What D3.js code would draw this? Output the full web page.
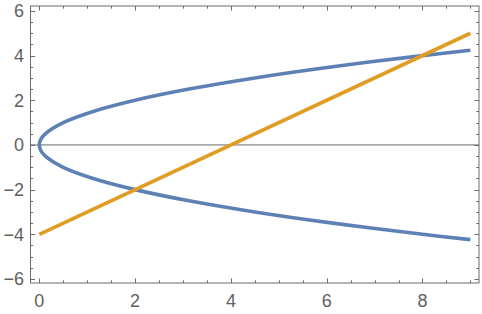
<!DOCTYPE html>
<html>
<head>
<meta charset="utf-8">
<script src="https://cdn.jsdelivr.net/npm/d3@7"></script>
<style>
  body { margin: 0; background: #fff; }
  svg { display: block; }
  .lbl { font-family: "Liberation Sans", Arial, sans-serif; font-size: 18px; fill: #606060; }
</style>
</head>
<body>
<svg id="chart" width="482" height="314"></svg>
<script>
// parabola points (lower branch -> vertex -> upper branch)
var parabolaX = [9, 8, 6.125, 4.5, 3.125, 2, 1.125, 0.5, 0.125, 0.03, 0, 0.03, 0.125, 0.5, 1.125, 2, 3.125, 4.5, 6.125, 8, 9];
var parabolaY = [-4.24, -4, -3.5, -3, -2.5, -2, -1.5, -1, -0.5, -0.25, 0, 0.25, 0.5, 1, 1.5, 2, 2.5, 3, 3.5, 4, 4.24];
// straight line
var lineX = [0, 9];
var lineY = [-4, 5];
var xTicks = [0, 2, 4, 6, 8];
var yTicks = [-6, -4, -2, 0, 2, 4, 6];

var fLeft = 30.5, fRight = 479, fTop = 6, fBottom = 283;

var x = d3.scaleLinear().domain([-0.184, 9.18]).range([fLeft, fRight]);
var y = d3.scaleLinear().domain([-6.18, 6.22]).range([fBottom, fTop]);

var svg = d3.select("#chart");

// zero axis line
svg.append("line")
    .attr("x1", fLeft).attr("x2", fRight)
    .attr("y1", y(0)).attr("y2", y(0))
    .attr("stroke", "#444").attr("stroke-width", 0.8);

var line = d3.line()
    .x(function (d) { return x(d[0]); })
    .y(function (d) { return y(d[1]); })
    .curve(d3.curveCatmullRom.alpha(0.5));

var pts = parabolaX.map(function (v, i) { return [v, parabolaY[i]]; });
svg.append("path")
    .attr("d", line(pts))
    .attr("fill", "none")
    .attr("stroke", "#5E81B5")
    .attr("stroke-width", 3.6);

svg.append("path")
    .attr("d", d3.line()
        .x(function (d) { return x(d[0]); })
        .y(function (d) { return y(d[1]); })(lineX.map(function (v, i) { return [v, lineY[i]]; })))
    .attr("fill", "none")
    .attr("stroke", "#E19C24")
    .attr("stroke-width", 3.6);

// frame
var frame = svg.append("g").attr("stroke", "#6b6b6b").attr("stroke-width", 1);
frame.append("rect")
    .attr("x", fLeft).attr("y", fTop)
    .attr("width", fRight - fLeft).attr("height", fBottom - fTop)
    .attr("fill", "none");

// ticks (inward, major and minor)
var xMinor = d3.range(0, 9.01, 0.5);
var yMinor = d3.range(-6, 6.01, 0.5);
xMinor.forEach(function (v) {
    var len = (v % 2 === 0) ? 4.5 : 2.7;
    var px = Math.round(x(v)) + 0.5;
    frame.append("line").attr("x1", px).attr("x2", px).attr("y1", fBottom).attr("y2", fBottom - len);
    frame.append("line").attr("x1", px).attr("x2", px).attr("y1", fTop).attr("y2", fTop + len);
});
yMinor.forEach(function (v) {
    var len = (v % 2 === 0) ? 4.5 : 2.7;
    var py = Math.round(y(v)) + 0.5;
    frame.append("line").attr("x1", fLeft).attr("x2", fLeft + len).attr("y1", py).attr("y2", py);
    frame.append("line").attr("x1", fRight).attr("x2", fRight - len).attr("y1", py).attr("y2", py);
});

// tick labels
svg.selectAll(".xl").data(xTicks).enter().append("text")
    .attr("class", "lbl")
    .attr("x", function (d) { return x(d); })
    .attr("y", 307)
    .attr("text-anchor", "middle")
    .text(function (d) { return d; });

svg.selectAll(".yl").data(yTicks).enter().append("text")
    .attr("class", "lbl")
    .attr("x", 24)
    .attr("y", function (d) { return y(d) + 6.5; })
    .attr("text-anchor", "end")
    .text(function (d) { return d < 0 ? "\u2212" + Math.abs(d) : d; });
</script>
</body>
</html>
